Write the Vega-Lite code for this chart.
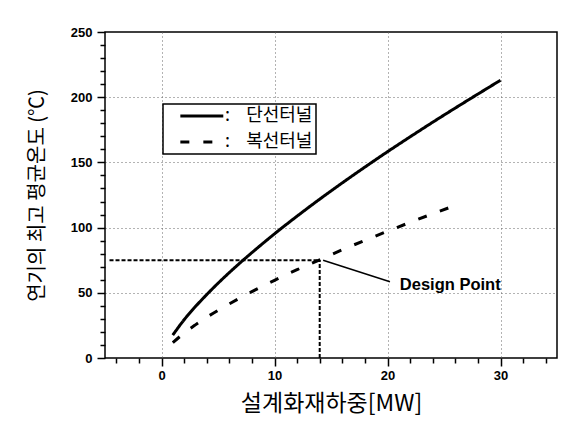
{
  "$schema": "https://vega.github.io/schema/vega-lite/v6.json",
  "width": 452,
  "height": 326,
  "autosize": {"type": "none"},
  "padding": {"left": 105, "top": 32, "right": 31, "bottom": 77},
  "background": "white",
  "config": {
    "view": {"stroke": "black", "strokeWidth": 1.5},
    "legend": {"strokeWidth": 1.5},
    "axis": {
      "domain": false,
      "tickColor": "black",
      "tickWidth": 1.5,
      "labelFont": "Liberation Sans",
      "labelFontWeight": "bold",
      "labelFontSize": 13,
      "labelColor": "black",
      "labelOverlap": false,
      "labelBound": false,
      "labelFlush": false,
      "titleFont": "Noto Sans CJK KR",
      "titleFontWeight": "normal",
      "titleColor": "black",
      "gridColor": "#666",
      "gridDash": [1, 3],
      "gridWidth": 1
    }
  },
  "datasets": {
    "curves": [
      {"series": "단선터널", "x": 1, "y": 17.6},
      {"series": "단선터널", "x": 2, "y": 29.3},
      {"series": "단선터널", "x": 3, "y": 39.4},
      {"series": "단선터널", "x": 4, "y": 48.6},
      {"series": "단선터널", "x": 5, "y": 57.3},
      {"series": "단선터널", "x": 6, "y": 65.5},
      {"series": "단선터널", "x": 7, "y": 73.3},
      {"series": "단선터널", "x": 8, "y": 80.8},
      {"series": "단선터널", "x": 9, "y": 88.1},
      {"series": "단선터널", "x": 10, "y": 95.2},
      {"series": "단선터널", "x": 12, "y": 108.8},
      {"series": "단선터널", "x": 14, "y": 121.8},
      {"series": "단선터널", "x": 16, "y": 134.3},
      {"series": "단선터널", "x": 18, "y": 146.4},
      {"series": "단선터널", "x": 20, "y": 158.2},
      {"series": "단선터널", "x": 22, "y": 169.6},
      {"series": "단선터널", "x": 24, "y": 180.8},
      {"series": "단선터널", "x": 26, "y": 191.7},
      {"series": "단선터널", "x": 28, "y": 202.4},
      {"series": "단선터널", "x": 30, "y": 213},
      {"series": "복선터널", "x": 1, "y": 11.7},
      {"series": "복선터널", "x": 2, "y": 19.1},
      {"series": "복선터널", "x": 3, "y": 25.4},
      {"series": "복선터널", "x": 4, "y": 31.2},
      {"series": "복선터널", "x": 5, "y": 36.5},
      {"series": "복선터널", "x": 6, "y": 41.5},
      {"series": "복선터널", "x": 7, "y": 46.3},
      {"series": "복선터널", "x": 8, "y": 50.9},
      {"series": "복선터널", "x": 9, "y": 55.3},
      {"series": "복선터널", "x": 10, "y": 59.6},
      {"series": "복선터널", "x": 12, "y": 67.7},
      {"series": "복선터널", "x": 14, "y": 75.3},
      {"series": "복선터널", "x": 16, "y": 83},
      {"series": "복선터널", "x": 18, "y": 90.2},
      {"series": "복선터널", "x": 20, "y": 97.2},
      {"series": "복선터널", "x": 22, "y": 104},
      {"series": "복선터널", "x": 24, "y": 110.6},
      {"series": "복선터널", "x": 26, "y": 117}
    ],
    "designLines": [
      {"x1": -4.6, "x2": 14, "y1": 75, "y2": 75},
      {"x1": 14, "x2": 14, "y1": 0, "y2": 75}
    ],
    "callout": [
      {"x1": 14.3, "y1": 75, "x2": 20.22, "y2": 58.5, "label": "Design Point"}
    ]
  },
  "layer": [
    {
      "data": {"name": "curves"},
      "mark": {"type": "line", "color": "black", "strokeWidth": 3, "interpolate": "monotone"},
      "encoding": {
        "x": {
          "field": "x",
          "type": "quantitative",
          "scale": {"domain": [-5, 35], "nice": false, "zero": false},
          "axis": {
            "title": "설계화재하중[MW]",
            "titleFontSize": 23,
            "titleBaseline": "middle",
            "titleY": 45,
            "labelPadding": 3,
            "labelOverlap": false,
            "format": "d",
            "tickCount": 100,
            "values": [-4, -2, 0, 2, 4, 6, 8, 10, 12, 14, 16, 18, 20, 22, 24, 26, 28, 30, 32, 34],
            "labelExpr": "datum.value % 10 === 0 ? datum.label : ''",
            "tickSize": {"condition": {"test": "datum.value % 10 === 0", "value": 8}, "value": 5},
            "gridOpacity": {"condition": {"test": "datum.value % 10 === 0", "value": 1}, "value": 0}
          }
        },
        "y": {
          "field": "y",
          "type": "quantitative",
          "scale": {"domain": [0, 250], "nice": false},
          "axis": {
            "title": "연기의 최고 평균온도 (℃)",
            "titleFontSize": 20,
            "titleBaseline": "middle",
            "titleX": -68,
            "labelPadding": 5,
            "labelOverlap": false,
            "format": "d",
            "tickCount": 100,
            "values": [0, 10, 20, 30, 40, 50, 60, 70, 80, 90, 100, 110, 120, 130, 140, 150, 160, 170, 180, 190, 200, 210, 220, 230, 240, 250],
            "labelExpr": "datum.value % 50 === 0 ? datum.label : ''",
            "tickSize": {"condition": {"test": "datum.value % 50 === 0", "value": 8}, "value": 5},
            "gridOpacity": {"condition": {"test": "datum.value % 50 === 0 && datum.value > 0 && datum.value < 250", "value": 1}, "value": 0}
          }
        },
        "strokeDash": {
          "field": "series",
          "type": "nominal",
          "scale": {"domain": ["단선터널", "복선터널"], "range": [[1, 0], [9, 14]]},
          "legend": {
            "orient": "none",
            "legendX": 58,
            "legendY": 72,
            "title": null,
            "symbolType": "M-1,0H5",
            "symbolSize": 205,
            "symbolStrokeWidth": 3,
            "symbolStrokeColor": "black",
            "symbolFillColor": "transparent",
            "symbolOffset": 12.5,
            "labelOffset": 28.5,
            "labelExpr": "':\u00a0\u00a0\u00a0\u00a0' + datum.label + '\u00a0\u00a0\u00a0\u00a0\u00a0\u00a0\u00a0\u00a0\u00a0'",
            "labelFont": "Noto Sans CJK KR",
            "labelFontSize": 18,
            "labelColor": "black",
            "padding": 3,
            "rowPadding": 8,
            "strokeColor": "black",
            "fillColor": "white"
          }
        }
      }
    },
    {
      "mark": {"type": "rect", "color": "black"},
      "encoding": {
        "x": {"datum": 0.46, "type": "quantitative"},
        "x2": {"datum": 15.62},
        "y": {"datum": 191.5, "type": "quantitative"},
        "y2": {"datum": 153.1}
      }
    },
    {
      "data": {"name": "designLines"},
      "mark": {"type": "rule", "color": "black", "strokeWidth": 2, "strokeDash": [4, 2]},
      "encoding": {
        "x": {"field": "x1", "type": "quantitative"},
        "x2": {"field": "x2"},
        "y": {"field": "y1", "type": "quantitative"},
        "y2": {"field": "y2"}
      }
    },
    {
      "mark": {"type": "point", "shape": "triangle-right", "filled": true, "color": "black", "size": 30, "opacity": 1},
      "encoding": {
        "x": {"datum": 13.6, "type": "quantitative"},
        "y": {"datum": 75, "type": "quantitative"}
      }
    },
    {
      "data": {"name": "callout"},
      "mark": {"type": "rule", "color": "black", "strokeWidth": 1.5},
      "encoding": {
        "x": {"field": "x1", "type": "quantitative"},
        "y": {"field": "y1", "type": "quantitative"},
        "x2": {"field": "x2"},
        "y2": {"field": "y2"}
      }
    },
    {
      "mark": {"type": "rect", "color": "black"},
      "encoding": {
        "x": {"datum": 20.6, "type": "quantitative"},
        "x2": {"datum": 31.85},
        "y": {"datum": 65.2, "type": "quantitative"},
        "y2": {"datum": 42.2}
      }
    },
    {
      "mark": {"type": "rect", "fill": "white", "stroke": "black", "strokeWidth": 1.5},
      "encoding": {
        "x": {"datum": 20.22, "type": "quantitative"},
        "x2": {"datum": 31.43},
        "y": {"datum": 67.5, "type": "quantitative"},
        "y2": {"datum": 44.5}
      }
    },
    {
      "data": {"name": "callout"},
      "mark": {"type": "text", "font": "Liberation Sans", "fontWeight": "bold", "fontSize": 16.5, "color": "black", "align": "center", "baseline": "middle"},
      "encoding": {
        "x": {"datum": 25.55, "type": "quantitative"},
        "y": {"datum": 56, "type": "quantitative"},
        "text": {"field": "label", "type": "nominal"}
      }
    }
  ]
}
